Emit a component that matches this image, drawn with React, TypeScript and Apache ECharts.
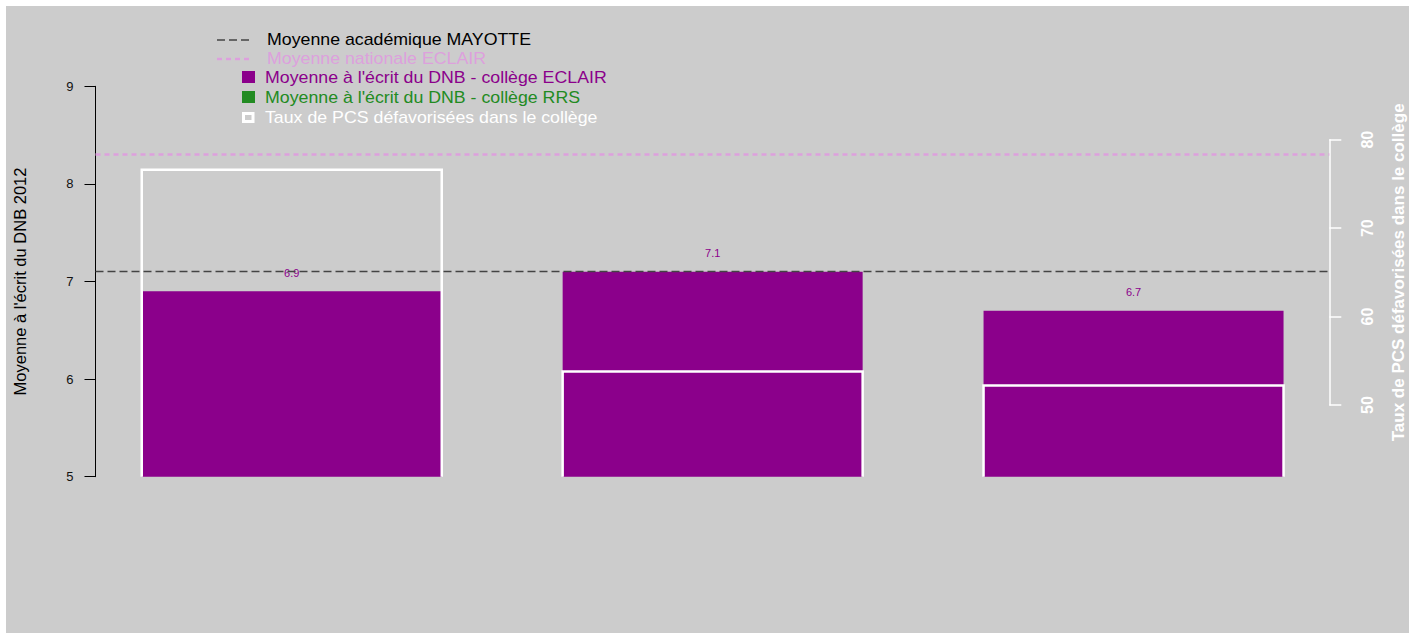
import React, { useEffect, useRef } from "react";
import * as echarts from "echarts";

// ---- Data ----
const colleges = ["Collège 1", "Collège 2", "Collège 3"];
const dnbEcrit = [6.9, 7.1, 6.7];
const tauxPCS = [76.6, 53.8, 52.2];
const moyenneAcademique = 7.1;
const moyenneNationaleEclair = 8.3;
const leftRange = [5, 9];
const rightRange = [50, 80];

const legendItems = [
  "Moyenne académique MAYOTTE",
  "Moyenne nationale ECLAIR",
  "Moyenne à l'écrit du DNB - collège ECLAIR",
  "Moyenne à l'écrit du DNB - collège RRS",
  "Taux de PCS défavorisées dans le collège",
];

// ---- Layout (container-relative px) ----
const OX = 6;
const OY = 6;
const gridTop = 86.3 - OY;
const gridBottomAbs = 476.7;
const gridHeight = gridBottomAbs - 86.3;
const rTopAbs = 139.7;
const rBotAbs = 405;
const pxPerR = (rBotAbs - rTopAbs) / (rightRange[1] - rightRange[0]);
const rMin = rightRange[0] - (gridBottomAbs - rBotAbs) / pxPerR;
const rMax = rightRange[1] + (rTopAbs - 86.3) / pxPerR;
const BAR_W = 300;

const FONT = '"Liberation Sans", Arial, sans-serif';
const PURPLE = "#8B008B";
const GREEN = "#228B22";
const PLUM = "#DDA0DD";

const LEG_FS = 16;
const LEG_SX = 1.11;

export default function App() {
  const ref = useRef<HTMLDivElement>(null);
  useEffect(() => {
    if (!ref.current) return;
    const chart = echarts.init(ref.current, undefined, { renderer: "svg" });
    const barsLeft = 291.75 - 210.45 - OX;
    const barsWidth = 420.9 * 3;
    const linesLeft = 95.5 - OX;
    const linesWidth = 1329.3 - 95.5;
    const legText = (i: number, y: number, fill: string) => ({
      type: "text",
      x: 261,
      y,
      scaleX: LEG_SX,
      style: { text: legendItems[i], fill, fontSize: LEG_FS, fontFamily: FONT, verticalAlign: "middle" },
    });
    const g = (left: number, width: number, top: number, height: number) => ({
      left,
      width,
      top,
      height,
      containLabel: false,
      outerBoundsMode: "none",
    });
    chart.setOption({
      animation: false,
      textStyle: { fontFamily: FONT },
      grid: [
        g(barsLeft, barsWidth, gridTop, gridHeight),
        g(barsLeft, barsWidth, gridTop, gridHeight),
        g(linesLeft, linesWidth, gridTop, gridHeight),
        g(linesLeft, linesWidth, rTopAbs - OY, rBotAbs - rTopAbs),
      ],
      xAxis: [
        { type: "category", data: colleges, gridIndex: 0, show: false },
        { type: "category", data: colleges, gridIndex: 1, show: false },
        { type: "value", min: 0, max: 1, gridIndex: 2, show: false },
        { type: "value", min: 0, max: 1, gridIndex: 3, show: false },
      ],
      yAxis: [
        { type: "value", min: leftRange[0], max: leftRange[1], gridIndex: 0, show: false },
        { type: "value", min: rMin, max: rMax, gridIndex: 1, show: false },
        {
          type: "value",
          gridIndex: 2,
          position: "left",
          min: leftRange[0],
          max: leftRange[1],
          interval: 1,
          axisLine: { show: true, onZero: false, lineStyle: { color: "#000", width: 1 } },
          axisTick: { show: true, length: 11, lineStyle: { color: "#000", width: 1 } },
          axisLabel: { color: "#111", fontSize: 13, margin: 22, fontFamily: FONT },
          splitLine: { show: false },
          name: "Moyenne à l'écrit du DNB 2012",
          nameLocation: "middle",
          nameRotate: 90,
          nameGap: 67,
          nameTextStyle: { color: "#000", fontSize: 16.5, fontFamily: FONT },
        },
        {
          type: "value",
          gridIndex: 3,
          position: "right",
          min: rightRange[0],
          max: rightRange[1],
          interval: 10,
          axisLine: { show: true, onZero: false, lineStyle: { color: "#fff", width: 1.5 } },
          axisTick: { show: true, length: 12, lineStyle: { color: "#fff", width: 1.5 } },
          axisLabel: {
            color: "#fff",
            fontSize: 16,
            fontWeight: "bold",
            rotate: 90,
            margin: 30,
            fontFamily: FONT,
          },
          splitLine: { show: false },
          name: "Taux de PCS défavorisées dans le collège",
          nameLocation: "middle",
          nameRotate: 90,
          nameGap: 61,
          nameTextStyle: { color: "#fff", fontSize: 17, fontWeight: "bold", fontFamily: FONT },
        },
      ],
      series: [
        {
          type: "bar",
          xAxisIndex: 0,
          yAxisIndex: 0,
          data: dnbEcrit,
          barWidth: BAR_W,
          z: 2,
          itemStyle: { color: PURPLE },
          label: {
            show: true,
            position: "top",
            distance: 13,
            color: PURPLE,
            fontSize: 11,
            fontFamily: FONT,
          },
        },
        {
          type: "custom",
          xAxisIndex: 1,
          yAxisIndex: 1,
          data: tauxPCS.map((v, i) => [i, v]),
          z: 3,
          renderItem: (params: any, api: any) => {
            const top = api.coord([api.value(0), api.value(1)]);
            const base = api.coord([api.value(0), rMin]);
            const h = BAR_W / 2;
            return {
              type: "polyline",
              shape: {
                points: [
                  [top[0] - h, base[1]],
                  [top[0] - h, top[1]],
                  [top[0] + h, top[1]],
                  [top[0] + h, base[1]],
                ],
              },
              style: { stroke: "#fff", lineWidth: 2.5, fill: "none" },
            };
          },
        },
        {
          type: "line",
          xAxisIndex: 2,
          yAxisIndex: 2,
          data: [],
          z: 4,
          markLine: {
            silent: true,
            symbol: "none",
            label: { show: false },
            data: [
              { yAxis: moyenneAcademique, lineStyle: { color: "#444", width: 1.3, type: [8, 4] } },
              { yAxis: moyenneNationaleEclair, lineStyle: { color: PLUM, width: 2.5, type: [5, 4] } },
            ],
          },
        },
      ],
      graphic: [
        {
          type: "line",
          shape: { x1: 211, y1: 34, x2: 243, y2: 34 },
          style: { stroke: "#444", lineWidth: 1.3, lineDash: [8, 4] },
        },
        legText(0, 34, "#000"),
        {
          type: "line",
          shape: { x1: 211, y1: 53, x2: 243, y2: 53 },
          style: { stroke: PLUM, lineWidth: 2.5, lineDash: [5, 4] },
        },
        legText(1, 53, PLUM),
        { type: "rect", shape: { x: 236, y: 65, width: 13, height: 12 }, style: { fill: PURPLE } },
        { ...legText(2, 72, PURPLE), x: 259 },
        { type: "rect", shape: { x: 236, y: 85, width: 13, height: 12 }, style: { fill: GREEN } },
        { ...legText(3, 92, GREEN), x: 259 },
        {
          type: "rect",
          shape: { x: 237.5, y: 107.5, width: 9.5, height: 8 },
          style: { fill: "none", stroke: "#fff", lineWidth: 3 },
        },
        { ...legText(4, 112, "#fff"), x: 259 },
      ],
    });
    return () => chart.dispose();
  }, []);
  return (
    <div
      ref={ref}
      style={{
        position: "fixed",
        left: OX,
        top: OY,
        width: 1403,
        height: 627,
        background: "#CCCCCC",
      }}
    />
  );
}
